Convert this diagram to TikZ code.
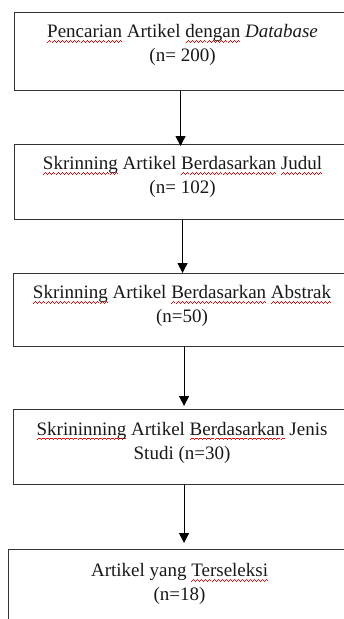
\documentclass[tikz,border=0pt]{standalone}
\usepackage{fontspec}
\setmainfont{Liberation Serif}
\usetikzlibrary{arrows.meta}
\usetikzlibrary{positioning}

% red wavy mark of the spell checker
\newsavebox\typobox
\newcommand\wavebit{\hbox{%
  \vrule width1pt height0.8pt depth0pt%
  \raise0.7pt\hbox{\vrule width1pt height0.8pt depth0pt}%
  \raise1.4pt\hbox{\vrule width1pt height0.8pt depth0pt}%
  \raise0.7pt\hbox{\vrule width1pt height0.8pt depth0pt}}}
\newcommand\typo[1]{\sbox\typobox{#1}%
  \rlap{\lower4.5pt\hbox to\wd\typobox{\color{red}\xleaders\wavebit\hfil}}%
  \usebox\typobox}

\begin{document}
\begin{tikzpicture}[x=1pt,y=-1pt,->,>={Triangle[width=10pt,length=10pt]}]
\tikzstyle{stage}=[rectangle,
  draw=black!80,line width=1.1pt,
  anchor=north west,inner sep=0pt,
  minimum width=336pt
]

\tikzstyle{caption}=[anchor=north,
  align=center,inner sep=0pt,
  font=\fontsize{19}{24}\selectfont,
  text=black!90
]

\tikzstyle{flow}=[draw=black,line width=0.9pt]

\useasboundingbox (0,0) rectangle (344,619);
\clip (0,0) rectangle (344,619);

\node[stage,minimum height=78pt]          (A) at (14,12)  {};
\node[stage,minimum height=75pt]          (B) at (14,144) {};
\node[stage,minimum height=73pt,minimum width=337pt] (C) at (13,273) {};
\node[stage,minimum height=75pt,minimum width=337pt] (D) at (13,409) {};
\node[stage,minimum height=91pt,minimum width=342pt] (E) at (8,549)  {};

\node[caption] (A-text) at ([yshift=-12.5pt]A.north)
  {\typo{Pencarian} Artikel \typo{dengan} \textit{Database}\\(n= 200)};
\node[caption] (B-text) at ([yshift=-12.5pt]B.north)
  {\typo{Skrinning} Artikel \typo{Berdasarkan} \typo{Judul}\\(n= 102)};
\node[caption] (C-text) at ([yshift=-12.5pt]C.north)
  {\typo{Skrinning} Artikel \typo{Berdasarkan} \typo{Abstrak}\\(n=50)};
\node[caption] (D-text) at ([yshift=-13pt]D.north)
  {\typo{Skrininning} Artikel \typo{Berdasarkan} Jenis\\Studi (n=30)};
\node[caption] (E-text) at ([yshift=-14.5pt]E.north)
  {Artikel yang \typo{Terseleksi}\\(n=18)};

\draw[flow] ([xshift=-2pt]A.south) -- ([xshift=-2pt,yshift=-2pt]A.south |- B.north);
\draw[flow] (B.south) -- (B.south |- C.north);
\draw[flow] ([xshift=2pt]C.south) -- ([xshift=2pt,yshift=3pt]C.south |- D.north);
\draw[flow] ([xshift=2pt]D.south) -- ([xshift=2pt,yshift=6pt]D.south |- E.north);
\end{tikzpicture}
\end{document}
